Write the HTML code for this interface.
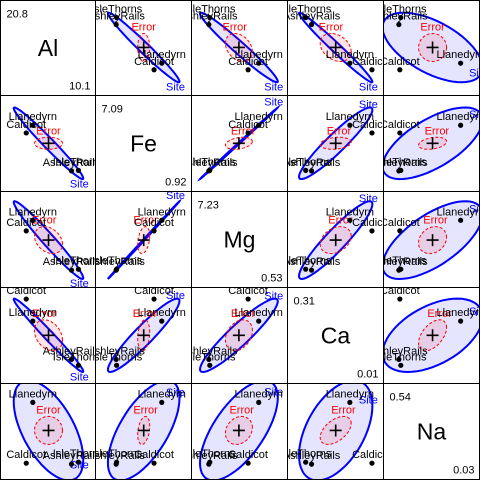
<!DOCTYPE html>
<html><head><meta charset="utf-8">
<style>html,body{margin:0;padding:0;background:#fff;}svg{display:block;font-family:"Liberation Sans",sans-serif;}</style>
</head><body>
<svg id="chart" width="480" height="480" viewBox="0 0 480 480" xmlns="http://www.w3.org/2000/svg">
<rect x="0" y="0" width="480" height="480" fill="#fff"/>
<defs id="defs"></defs>
<g id="panels"></g>
</svg>
<script>
const variables = ["Al", "Fe", "Mg", "Ca", "Na"];
const sites = ["Llanedyrn", "Caldicot", "IsleThorns", "AshleyRails"];
const siteN = [14, 2, 5, 5];
const meanAl = [12.56, 11.75, 18.18, 17.32];
const meanFe = [6.42, 5.6, 1.61, 1.56];
const meanMg = [4.78, 3.88, 0.63, 0.55];
const meanCa = [0.21, 0.30, 0.03, 0.054];
const meanNa = [0.25, 0.06, 0.063, 0.057];
const limLo = [8.58, -0.64, -0.92, -0.044, 0.009];
const limHi = [20.28, 9.59, 7.22, 0.347, 0.309];
const maxLabels = ["20.8", "7.09", "7.23", "0.31", "0.54"];
const minLabels = ["10.1", "0.92", "0.53", "0.01", "0.03"];
const errorHalf = [14, 6, 13.5, 15.5, 14];
const errorCorr = [
  [1, 0, -0.3, -0.3, 0],
  [0, 1, 0.3, 0.2, 0.3],
  [-0.3, 0.3, 1, 0.3, 0.2],
  [-0.3, 0.2, 0.3, 1, 0.5],
  [0, 0.3, 0.2, 0.5, 1]
];
const hScale = 1.65;
const corrShrink = [1, 1, 1, 1, 0.72];

const means = [meanAl, meanFe, meanMg, meanCa, meanNa];
const grid = [0.5, 95.5, 191.5, 287.5, 383.5, 479.5];
const NS = "http://www.w3.org/2000/svg";
const root = document.getElementById("panels");
const defs = document.getElementById("defs");
function mk(tag, attrs, parent) {
  const e = document.createElementNS(NS, tag);
  for (const k in attrs) e.setAttribute(k, attrs[k]);
  parent.appendChild(e);
  return e;
}
function frac(v, k) { return (v - limLo[k]) / (limHi[k] - limLo[k]); }
const total = siteN.reduce((a, b) => a + b, 0);
const gmFrac = variables.map((_, k) => {
  let s = 0; for (let g = 0; g < sites.length; g++) s += siteN[g] * frac(means[k][g], k);
  return s / total;
});
function hCov(a, b) {
  let s = 0;
  for (let g = 0; g < sites.length; g++) s += siteN[g] * (frac(means[a][g], a) - gmFrac[a]) * (frac(means[b][g], b) - gmFrac[b]);
  s = s / total;
  if (a !== b) s *= corrShrink[a] * corrShrink[b];
  return s;
}
function ellipsePts(cx, cy, sxx, sxy, syy, s) {
  const l11 = Math.sqrt(Math.max(sxx, 1e-12));
  const l21 = sxy / l11;
  const l22 = Math.sqrt(Math.max(syy - l21 * l21, 1e-12));
  const pts = [];
  for (let t = 0; t < 60; t++) {
    const a = t / 60 * 2 * Math.PI, u = Math.cos(a), v = Math.sin(a);
    pts.push([cx + s * l11 * u, cy - s * (l21 * u + l22 * v)]);
  }
  return pts;
}
for (let i = 0; i < 5; i++) {
  for (let j = 0; j < 5; j++) {
    const x0 = grid[j], y0 = grid[i], w = grid[j + 1] - grid[j], h = grid[i + 1] - grid[i];
    const cid = "clip" + i + j;
    const cp = mk("clipPath", { id: cid }, defs);
    mk("rect", { x: x0, y: y0, width: w, height: h }, cp);
    const g = mk("g", { "clip-path": "url(#" + cid + ")" }, root);
    
    
    if (i === j) {
      const t1 = mk("text", { x: x0 + w / 2, y: y0 + h / 2 + 8, "font-size": 23, "text-anchor": "middle", fill: "#000" }, g);
      t1.textContent = variables[i];
      
      
      const t2 = mk("text", { x: x0 + 6, y: y0 + 17, "font-size": 11, fill: "#000" }, g);
      t2.textContent = maxLabels[i];
      
      
      const t3 = mk("text", { x: x0 + w - 5, y: y0 + h - 6, "font-size": 11, "text-anchor": "end", fill: "#000" }, g);
      t3.textContent = minLabels[i];
      
      
    } else {
      const px = f => x0 + f * w, py = f => y0 + (1 - f) * h;
      const cx = px(gmFrac[j]), cy = py(gmFrac[i]);
      const hp = ellipsePts(cx, cy, hCov(j, j) * w * w, hCov(j, i) * w * h, hCov(i, i) * h * h, hScale);
      const he = mk("polygon", { points: hp.map(p => p[0].toFixed(1) + "," + p[1].toFixed(1)).join(" "), fill: "rgba(0,0,255,0.1)", stroke: "#0000ff", "stroke-width": 2 }, g);
      
      
      const ex = errorHalf[j], ey = errorHalf[i], r = errorCorr[j][i];
      const ep = ellipsePts(cx, cy, ex * ex, ex * ey * r, ey * ey, 1);
      const ee = mk("polygon", { points: ep.map(p => p[0].toFixed(1) + "," + p[1].toFixed(1)).join(" "), fill: "rgba(255,0,0,0.1)", stroke: "#ff0000", "stroke-width": 1, "stroke-dasharray": "3,2" }, g);
      
      
      let top = ep[0]; ep.forEach(p => { if (p[1] < top[1]) top = p; });
      const et = mk("text", { x: top[0], y: top[1] - 3, "font-size": 11, "text-anchor": "middle", fill: "#ff0000" }, g);
      et.textContent = "Error";
      
      
      let rt = hp[0]; hp.forEach(p => { if (p[0] > rt[0]) rt = p; });
      const st = mk("text", { x: rt[0] - 4, y: rt[1] > cy ? rt[1] + 9 : rt[1] - 2, "font-size": 11, "text-anchor": "middle", fill: "#0000ff" }, g);
      st.textContent = "Site";
      
      
      const cr = mk("path", { d: `M${cx - 6},${cy}H${cx + 6}M${cx},${cy - 6}V${cy + 6}`, stroke: "#000", "stroke-width": 1.6 }, g);
      
      
      for (let s = 0; s < sites.length; s++) {
        const dx = px(frac(means[j][s], j)), dy = py(frac(means[i][s], i));
        const c = mk("circle", { cx: dx, cy: dy, r: 2.6, fill: "#000" }, g);
        
        
        const lt = mk("text", { x: dx, y: dy - 5, "font-size": 11, "text-anchor": "middle", fill: "#000" }, g);
        lt.textContent = sites[s];
        
        
      }
    }
  }
}
for (let k = 0; k < 6; k++) {
  const vl = mk("line", { x1: grid[k], y1: 0, x2: grid[k], y2: 480, stroke: "#000", "stroke-width": 1 }, root);
  
  
  const hl = mk("line", { x1: 0, y1: grid[k], x2: 480, y2: grid[k], stroke: "#000", "stroke-width": 1 }, root);
  
  
}
</script>
</body></html>
